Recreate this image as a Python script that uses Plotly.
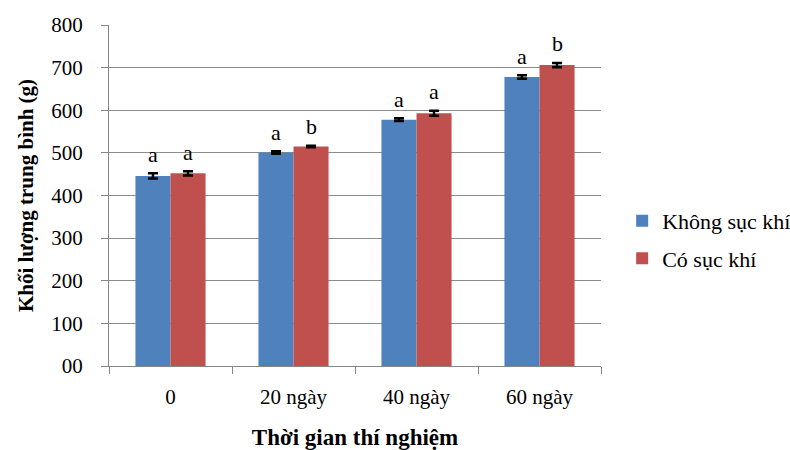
import plotly.graph_objects as go

categories = ["0", "20 ngày", "40 ngày", "60 ngày"]
khong_suc_khi = [446, 501, 578, 678]
co_suc_khi = [452, 515, 593, 706]
err_khong = [6, 3, 3, 4]
err_co = [5, 2, 6, 5]
letters_khong = ["a", "a", "a", "a"]
letters_co = ["a", "b", "a", "b"]
ytick_vals = [0, 100, 200, 300, 400, 500, 600, 700, 800]
ytick_text = ["00", "100", "200", "300", "400", "500", "600", "700", "800"]

font_family = "Times New Roman, Liberation Serif, serif"
blue = "#4F81BD"
red = "#C0504D"
axis_gray = "#868686"

fig = go.Figure()
fig.add_trace(go.Bar(
    x=categories, y=khong_suc_khi, name="Không sục khí", legendgroup="g1",
    marker=dict(color=blue, line=dict(width=0)),
    error_y=dict(type="data", array=err_khong, color="black", thickness=2.5, width=5),
))
fig.add_trace(go.Bar(
    x=categories, y=co_suc_khi, name="Có sục khí", legendgroup="g2",
    marker=dict(color=red, line=dict(width=0)),
    error_y=dict(type="data", array=err_co, color="black", thickness=2.5, width=5),
))

annotations = []
for i, c in enumerate(categories):
    annotations.append(dict(x=c, y=khong_suc_khi[i] + err_khong[i], text=letters_khong[i],
                            xshift=-17.5, yshift=19, showarrow=False,
                            font=dict(family=font_family, size=22, color="black")))
    annotations.append(dict(x=c, y=co_suc_khi[i] + err_co[i], text=letters_co[i],
                            xshift=17.5, yshift=19, showarrow=False,
                            font=dict(family=font_family, size=22, color="black")))

fig.update_layout(
    width=790, height=450,
    margin=dict(l=109, r=189, t=25, b=84, autoexpand=False),
    paper_bgcolor="white", plot_bgcolor="white",
    barmode="group", bargap=0.43, bargroupgap=0,
    font=dict(family=font_family, size=21, color="black"),
    showlegend=True,
    legend=dict(x=1.043, y=0.37, xanchor="left", yanchor="middle",
                font=dict(family=font_family, size=22, color="black"),
                itemwidth=30, tracegroupgap=6, bgcolor="rgba(0,0,0,0)"),
    annotations=annotations,
    xaxis=dict(
        automargin=False,
        showline=True, linecolor=axis_gray, linewidth=1,
        tickson="boundaries", ticks="outside", ticklen=7, tickcolor=axis_gray,
        tickfont=dict(family=font_family, size=21, color="black"),
        ticklabelstandoff=12,
        title=dict(text="<b>Thời gian thí nghiệm</b>",
                   font=dict(family=font_family, size=23, color="black"), standoff=24),
        showgrid=False,
    ),
    yaxis=dict(
        automargin=False,
        range=[0, 800], tickvals=ytick_vals, ticktext=ytick_text,
        showline=True, linecolor=axis_gray, linewidth=1,
        ticks="outside", ticklen=7, tickcolor=axis_gray,
        showgrid=True, gridcolor="#8c8c8c", gridwidth=1,
        tickfont=dict(family=font_family, size=21, color="black"),
        ticklabelstandoff=14,
        title=dict(text="<b>Khối lượng trung bình (g)</b>",
                   font=dict(family=font_family, size=21, color="black"), standoff=11),
        zeroline=False,
    ),
)

fig.write_html("out.html")
